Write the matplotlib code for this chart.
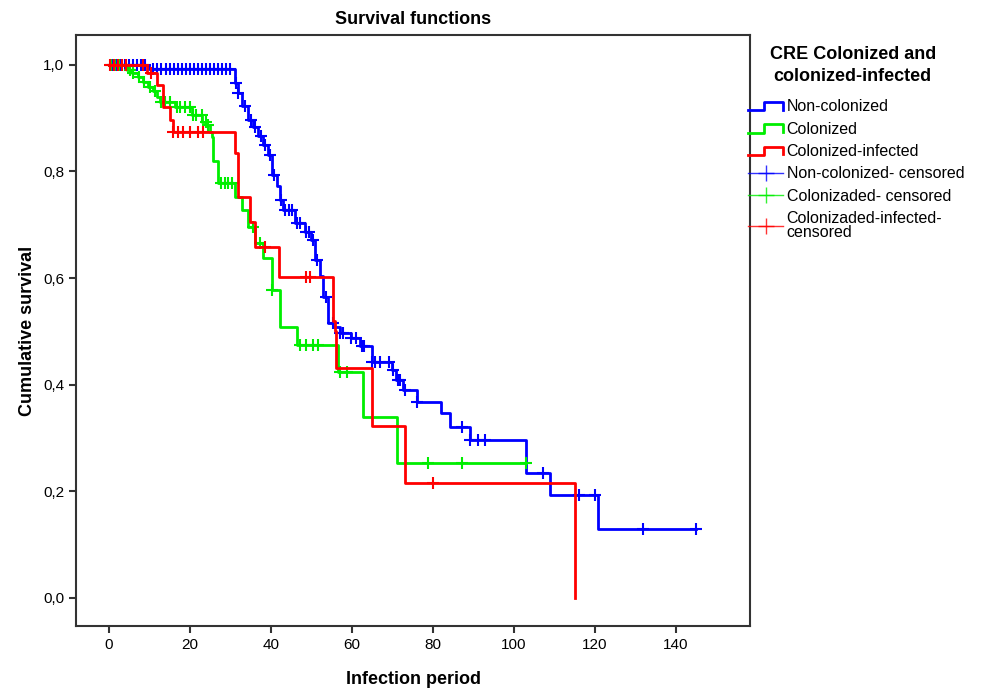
import numpy as np
import matplotlib
matplotlib.use("Agg")
import matplotlib.pyplot as plt
from matplotlib.lines import Line2D
from matplotlib.legend_handler import HandlerBase

plt.rcParams['font.family'] = ['Liberation Sans', 'DejaVu Sans']

# Kaplan-Meier steps: time of step, survival after it
noncol_t = [0, 10, 31.1, 31.8, 32.8, 34.4, 35.6, 36.9, 38.1, 39.3, 40.2, 41.4, 42.2, 43.0,
            45.9, 48.4, 50.0, 50.9, 52.1, 52.9, 54.2, 55.4, 57.0, 59.9, 62.0, 64.9, 69.8,
            71.0, 72.7, 76.0, 82.1, 84.2, 89.1, 103.1, 108.9, 120.8, 145]
noncol_s = [1.0, 0.992, 0.966, 0.947, 0.922, 0.897, 0.884, 0.866, 0.85, 0.831, 0.794, 0.772,
            0.747, 0.728, 0.703, 0.687, 0.672, 0.634, 0.603, 0.565, 0.515, 0.509, 0.497, 0.487,
            0.472, 0.443, 0.428, 0.409, 0.39, 0.368, 0.347, 0.321, 0.296, 0.234, 0.193, 0.129, 0.129]
noncol_cens = [1, 2, 3, 4, 5, 6, 7, 8, 9, 11, 12, 13, 14, 15, 16, 17, 18, 19, 20, 21, 22, 23,
               24, 25, 26, 27, 28, 29, 30, 31.3, 32, 33.5, 35, 36.2, 37.5, 38.5, 39.8, 40.8,
               42.6, 43.5, 44.5, 45.2, 46.5, 47.2, 48.8, 49.5, 50.4, 51.5, 53.5, 55.3, 57.0,
               57.9, 59.9, 61.1, 62.4, 63.0, 64.9, 65.8, 67.0, 69.1, 70.2, 71.4, 71.8, 73.1,
               76.0, 87.1, 89.1, 91.1, 92.8, 107.2, 116, 120, 131.9, 145]

col_t = [0, 4.4, 5.7, 7.2, 8.4, 9.6, 10.9, 11.9, 12.6, 16.3, 20.5, 23.0, 24.2, 24.9, 25.4,
         25.7, 26.9, 31.1, 32.8, 34.3, 36.0, 38.0, 40.2, 42.2, 46.4, 56.5, 62.7, 71.1, 103.1]
col_s = [1.0, 0.99, 0.985, 0.978, 0.968, 0.959, 0.95, 0.94, 0.93, 0.92, 0.906, 0.893, 0.887,
         0.874, 0.865, 0.82, 0.778, 0.752, 0.728, 0.696, 0.666, 0.638, 0.578, 0.509, 0.475,
         0.424, 0.34, 0.253, 0.253]
col_cens = [0.5, 1.5, 2.5, 5.2, 6.0, 7.5, 8.8, 10.1, 11.4, 12.8, 13.8, 15.1, 16.8, 17.5, 18.8,
            20.0, 20.8, 21.6, 22.9, 24.1, 24.5, 27.8, 28.6, 29.5, 30.3, 35.6, 37.2, 40.2, 47.2,
            48.8, 50.4, 51.7, 57.0, 58.7, 78.8, 87.1, 103.1]

inf_t = [0, 9.4, 11.9, 13.3, 15.1, 15.8, 31.1, 31.9, 34.8, 36.0, 42.0, 55.3, 55.8, 56.2,
         65.0, 73.1, 115.1]
inf_s = [1.0, 0.985, 0.962, 0.921, 0.897, 0.874, 0.835, 0.752, 0.705, 0.659, 0.602, 0.519,
         0.50, 0.432, 0.323, 0.216, 0.0]
inf_cens = [0.3, 1.2, 2.2, 3.2, 4.2, 8.4, 10.5, 15.9, 17.1, 18.3, 20.0, 22.1, 23.3, 38.5,
            48.8, 49.6, 80.0]

labels = ['Non-colonized', 'Colonized', 'Colonized-infected',
          'Non-colonized- censored', 'Colonizaded- censored',
          'Colonizaded-infected-\ncensored']
colors = ['#0000ff', '#00ee00', '#ff0000']


def surv_at(t, times, surv):
    idx = np.searchsorted(times, t, side='right') - 1
    return np.asarray(surv)[idx]


# step shaped legend icon like the SPSS one
class StepHandler(HandlerBase):
    def create_artists(self, legend, orig_handle, xdescent, ydescent, width, height, fontsize, trans):
        xs = np.array([0, 0.45, 0.45, 1.0, 1.0]) * width - xdescent
        ys = np.array([0.1, 0.1, 0.85, 0.85, 0.15]) * height - ydescent
        ln = Line2D(xs, ys, color=orig_handle.get_color(), lw=2, transform=trans)
        return [ln]


fig = plt.figure(figsize=(9.95, 6.9), dpi=100)
ax = fig.add_axes([0.0764, 0.0928, 0.6774, 0.8565])

groups = [(noncol_t, noncol_s, noncol_cens), (col_t, col_s, col_cens), (inf_t, inf_s, inf_cens)]
step_handles = []
cens_handles = []
for (t, s, c), col in zip(groups, colors):
    h, = ax.step(t, s, where='post', color=col, lw=2)
    ax.plot(c, surv_at(c, t, s), ls='none', marker='+', ms=9, mew=1.5, color=col)
    step_handles.append(h)
    cens_handles.append(Line2D([], [], color=col, lw=1, alpha=0.8, marker='+', ms=12, mew=1))

ax.set_xlim(-8.1, 158.3)
ax.set_ylim(-0.0525, 1.056)
ax.set_xticks(np.arange(0, 141, 20))
ax.set_yticks(np.arange(0, 1.01, 0.2))
ax.set_yticklabels([f"{v:.1f}".replace('.', ',') for v in np.arange(0, 1.01, 0.2)])
ax.tick_params(direction='out', length=5, width=1.5, labelsize=11, color='#333333')
for sp in ax.spines.values():
    sp.set_linewidth(1.5)
    sp.set_color('#333333')

ax.set_title('Survival functions', fontsize=13, fontweight='bold', pad=8)
ax.set_xlabel('Infection period', fontsize=13, fontweight='bold', labelpad=14)
ax.set_ylabel('Cumulative survival', fontsize=13, fontweight='bold', labelpad=5)

fig.text(0.857, 0.933, 'CRE Colonized and\ncolonized-infected', ha='center', va='top',
         fontsize=13, fontweight='bold', linespacing=1.35)
leg = fig.legend(step_handles + cens_handles, labels,
                 handler_map={h: StepHandler() for h in step_handles},
                 loc='upper left', bbox_to_anchor=(0.752, 0.856), frameon=False,
                 fontsize=11.5, handlelength=2.2, handletextpad=0.2, labelspacing=0.46,
                 borderaxespad=0, borderpad=0)
leg.get_texts()[5].set_linespacing(0.95)

fig.savefig('out.png', dpi=100)
